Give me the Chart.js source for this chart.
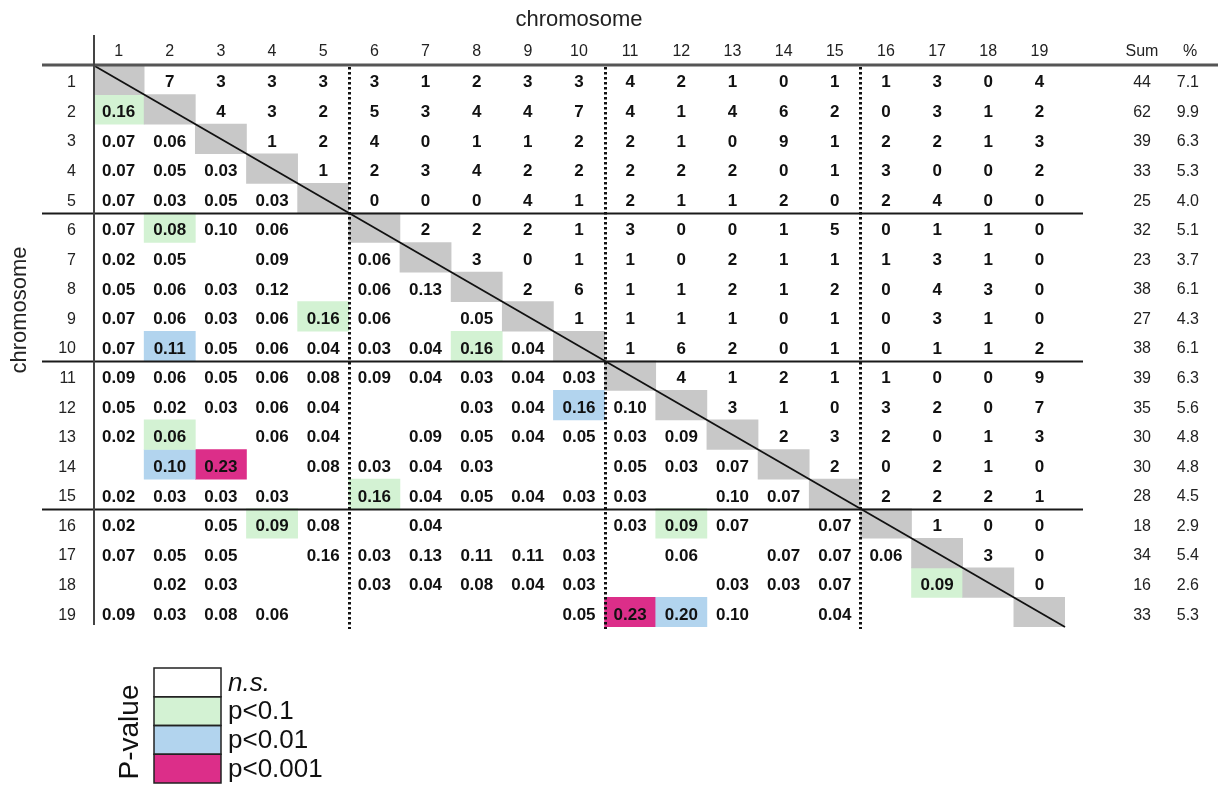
<!DOCTYPE html>
<html>
<head>
<meta charset="utf-8">
<script src="https://cdn.jsdelivr.net/npm/chart.js@4.4.1/dist/chart.umd.min.js"></script>
<style>
  html, body { margin: 0; padding: 0; background: #ffffff; }
  #wrap { position: relative; width: 1228px; height: 787px; }
</style>
</head>
<body>
<div id="wrap"><canvas id="chart" width="1228" height="787"></canvas></div>
<script>
// Chromosome labels (rows and columns of the matrix)
const chromosomes = ['1','2','3','4','5','6','7','8','9','10','11','12','13','14','15','16','17','18','19'];

// Upper triangle: shared counts for each pair, listed per row for the columns right of the diagonal
const sharedCounts = [
  [7,3,3,3, 3,1,2,3,3, 4,2,1,0,1, 1,3,0,4],
  [4,3,2, 5,3,4,4,7, 4,1,4,6,2, 0,3,1,2],
  [1,2, 4,0,1,1,2, 2,1,0,9,1, 2,2,1,3],
  [1, 2,3,4,2,2, 2,2,2,0,1, 3,0,0,2],
  [0,0,0,4,1, 2,1,1,2,0, 2,4,0,0],
  [2,2,2,1, 3,0,0,1,5, 0,1,1,0],
  [3,0,1, 1,0,2,1,1, 1,3,1,0],
  [2,6, 1,1,2,1,2, 0,4,3,0],
  [1, 1,1,1,0,1, 0,3,1,0],
  [1,6,2,0,1, 0,1,1,2],
  [4,1,2,1, 1,0,0,9],
  [3,1,0, 3,2,0,7],
  [2,3, 2,0,1,3],
  [2, 0,2,1,0],
  [2,2,2,1],
  [1,0,0],
  [3,0],
  [0],
  []
];

// Lower triangle: overlap index for each pair, listed per row for the columns left of the diagonal (null = not shown)
const overlapIndex = [
  [],
  [0.16],
  [0.07,0.06],
  [0.07,0.05,0.03],
  [0.07,0.03,0.05,0.03],
  [0.07,0.08,0.10,0.06,null],
  [0.02,0.05,null,0.09,null, 0.06],
  [0.05,0.06,0.03,0.12,null, 0.06,0.13],
  [0.07,0.06,0.03,0.06,0.16, 0.06,null,0.05],
  [0.07,0.11,0.05,0.06,0.04, 0.03,0.04,0.16,0.04],
  [0.09,0.06,0.05,0.06,0.08, 0.09,0.04,0.03,0.04,0.03],
  [0.05,0.02,0.03,0.06,0.04, null,null,0.03,0.04,0.16, 0.10],
  [0.02,0.06,null,0.06,0.04, null,0.09,0.05,0.04,0.05, 0.03,0.09],
  [null,0.10,0.23,null,0.08, 0.03,0.04,0.03,null,null, 0.05,0.03,0.07],
  [0.02,0.03,0.03,0.03,null, 0.16,0.04,0.05,0.04,0.03, 0.03,null,0.10,0.07],
  [0.02,null,0.05,0.09,0.08, null,0.04,null,null,null, 0.03,0.09,0.07,null,0.07],
  [0.07,0.05,0.05,null,0.16, 0.03,0.13,0.11,0.11,0.03, null,0.06,null,0.07,0.07, 0.06],
  [null,0.02,0.03,null,null, 0.03,0.04,0.08,0.04,0.03, null,null,0.03,0.03,0.07, null,0.09],
  [0.09,0.03,0.08,0.06,null, null,null,null,null,0.05, 0.23,0.20,0.10,null,0.04, null,null,null]
];

// Significant pairs as [row, column] (1-based chromosome numbers)
const pBelow01 = [[2,1],[6,2],[9,5],[10,8],[13,2],[15,6],[16,4],[16,12],[18,17]];
const pBelow001 = [[10,2],[12,10],[14,2],[19,12]];
const pBelow0001 = [[14,3],[19,11]];

// Row totals
const rowSums = [44,62,39,33,25,32,23,38,27,38,39,35,30,30,28,18,34,16,33];
const rowPercents = ['7.1','9.9','6.3','5.3','4.0','5.1','3.7','6.1','4.3','6.1','6.3','5.6','4.8','4.8','4.5','2.9','5.4','2.6','5.3'];

// Legend entries
const legendLabels = ['n.s.','p<0.1','p<0.01','p<0.001'];

const COLORS = {
  diagonal: '#c8c8c8',
  ns: '#ffffff',
  p01: '#d3f2d3',
  p001: '#b2d4ee',
  p0001: '#dc2e89'
};
const FONT = "'Liberation Sans', Arial, Helvetica, sans-serif";

// Floating bars spanning one row: row r (1-based) covers [r-1, r] on the value axis.
// Cells of the same colour sharing a column go into separate layers.
function cellLayers(cells) {
  const layers = [];
  cells.forEach(([r, c]) => {
    let layer = layers.find(l => l[c - 1] === null);
    if (!layer) {
      layer = chromosomes.map(() => null);
      layers.push(layer);
    }
    layer[c - 1] = [r - 1, r];
  });
  return layers;
}

const cellDefaults = {
  grouped: false,
  barPercentage: 1,
  categoryPercentage: 1,
  borderWidth: 0,
  borderSkipped: false,
  xAxisID: 'x',
  yAxisID: 'y'
};

const datasets = [
  Object.assign({ label: 'diagonal', data: chromosomes.map((_, i) => [i, i + 1]), backgroundColor: COLORS.diagonal }, cellDefaults),
  ...cellLayers(pBelow01).map(d => Object.assign({ label: 'p<0.1', data: d, backgroundColor: COLORS.p01 }, cellDefaults)),
  ...cellLayers(pBelow001).map(d => Object.assign({ label: 'p<0.01', data: d, backgroundColor: COLORS.p001 }, cellDefaults)),
  ...cellLayers(pBelow0001).map(d => Object.assign({ label: 'p<0.001', data: d, backgroundColor: COLORS.p0001 }, cellDefaults))
];

// Draws separators, the diagonal, cell values, totals and the colour key
const tablePlugin = {
  id: 'tableOverlay',
  afterDatasetsDraw(chart) {
    const { ctx, chartArea } = chart;
    const xs = chart.scales.x, ys = chart.scales.y;
    const colX = i => xs.getPixelForValue(i);
    const half = (colX(1) - colX(0)) / 2;
    const rowTop = i => ys.getPixelForValue(i);
    const rowMid = i => (ys.getPixelForValue(i) + ys.getPixelForValue(i + 1)) / 2 + 3;

    ctx.save();

    // diagonal line
    ctx.strokeStyle = '#111';
    ctx.lineWidth = 1.8;
    ctx.beginPath();
    ctx.moveTo(colX(0) - half, rowTop(0));
    ctx.lineTo(colX(chromosomes.length - 1) + half, rowTop(chromosomes.length));
    ctx.stroke();

    // solid separators every five rows
    ctx.strokeStyle = '#1a1a1a';
    ctx.lineWidth = 2;
    [5, 10, 15].forEach(r => {
      const y = Math.round(rowTop(r)) + 0.5;
      ctx.beginPath();
      ctx.moveTo(42, y);
      ctx.lineTo(1083, y);
      ctx.stroke();
    });

    // dotted separators every five columns
    ctx.save();
    ctx.strokeStyle = '#111';
    ctx.lineWidth = 3;
    ctx.setLineDash([2.5, 2.5]);
    [5, 10, 15].forEach(c => {
      const x = Math.round(colX(c - 1) + half) + 0.5;
      ctx.beginPath();
      ctx.moveTo(x, chartArea.top + 2);
      ctx.lineTo(x, chartArea.bottom + 2);
      ctx.stroke();
    });
    ctx.restore();

    // header rule and row-label rule
    ctx.strokeStyle = '#555';
    ctx.lineWidth = 3;
    ctx.beginPath();
    ctx.moveTo(42, chartArea.top);
    ctx.lineTo(1218, chartArea.top);
    ctx.stroke();
    ctx.strokeStyle = '#444';
    ctx.lineWidth = 2;
    ctx.beginPath();
    ctx.moveTo(chartArea.left + 1, 35);
    ctx.lineTo(chartArea.left + 1, chartArea.bottom - 2);
    ctx.stroke();

    // cell values
    ctx.fillStyle = '#111';
    ctx.font = 'bold 17px ' + FONT;
    ctx.textAlign = 'center';
    ctx.textBaseline = 'middle';
    sharedCounts.forEach((row, r) => {
      row.forEach((v, k) => ctx.fillText(String(v), colX(r + 1 + k), rowMid(r)));
    });
    overlapIndex.forEach((row, r) => {
      row.forEach((v, c) => {
        if (v !== null) ctx.fillText(v.toFixed(2), colX(c), rowMid(r));
      });
    });

    // totals
    ctx.font = '16px ' + FONT;
    ctx.fillStyle = '#222';
    ctx.textAlign = 'center';
    ctx.fillText('Sum', 1142, 52);
    ctx.fillText('%', 1190, 52);
    ctx.textAlign = 'right';
    rowSums.forEach((s, r) => ctx.fillText(String(s), 1151, rowMid(r)));
    rowPercents.forEach((p, r) => ctx.fillText(p, 1199, rowMid(r)));

    // vertical axis title
    ctx.save();
    ctx.translate(20, 310);
    ctx.rotate(-Math.PI / 2);
    ctx.font = '22px ' + FONT;
    ctx.textAlign = 'center';
    ctx.fillStyle = '#222';
    ctx.fillText('chromosome', 0, 0);
    ctx.restore();

    // colour key
    const keyLeft = 154, keyTop = 668, keyW = 67, keyH = 28.75;
    const keyColors = [COLORS.ns, COLORS.p01, COLORS.p001, COLORS.p0001];
    keyColors.forEach((c, i) => {
      ctx.fillStyle = c;
      ctx.fillRect(keyLeft, keyTop + i * keyH, keyW, keyH);
    });
    ctx.strokeStyle = '#222';
    ctx.lineWidth = 1.5;
    keyColors.forEach((c, i) => ctx.strokeRect(keyLeft, keyTop + i * keyH, keyW, keyH));
    ctx.fillStyle = '#111';
    ctx.textAlign = 'left';
    ctx.textBaseline = 'middle';
    legendLabels.forEach((t, i) => {
      ctx.font = (i === 0 ? 'italic ' : '') + '26px ' + FONT;
      ctx.fillText(t, keyLeft + keyW + 7, keyTop + i * keyH + keyH / 2 + 1);
    });
    ctx.save();
    ctx.translate(130, 732);
    ctx.rotate(-Math.PI / 2);
    ctx.font = '28px ' + FONT;
    ctx.textAlign = 'center';
    ctx.fillText('P-value', 0, 0);
    ctx.restore();

    ctx.restore();
  }
};

new Chart(document.getElementById('chart'), {
  type: 'bar',
  data: { labels: chromosomes, datasets },
  options: {
    responsive: false,
    animation: false,
    events: [],
    layout: { padding: { left: 0, top: 0, right: 163, bottom: 160 } },
    plugins: { legend: { display: false }, tooltip: { enabled: false }, title: { display: false } },
    scales: {
      x: {
        type: 'category',
        position: 'top',
        offset: true,
        grid: { display: false, drawTicks: false },
        border: { display: false },
        ticks: { color: '#222', font: { family: FONT, size: 16 }, padding: 4, maxRotation: 0, autoSkip: false },
        title: { display: true, text: 'chromosome', color: '#222', font: { family: FONT, size: 22 }, padding: { top: 7, bottom: 0 } },
        afterFit: s => { s.height = 65; }
      },
      y: {
        type: 'linear',
        min: 0,
        max: chromosomes.length,
        reverse: true,
        display: false
      },
      rows: {
        type: 'category',
        position: 'left',
        labels: chromosomes,
        offset: true,
        grid: { display: false, drawTicks: false },
        border: { display: false },
        ticks: { color: '#222', font: { family: FONT, size: 16 }, padding: 17, labelOffset: 3, autoSkip: false },
        afterFit: s => { s.width = 93; }
      }
    }
  },
  plugins: [tablePlugin]
});
</script>
</body>
</html>
